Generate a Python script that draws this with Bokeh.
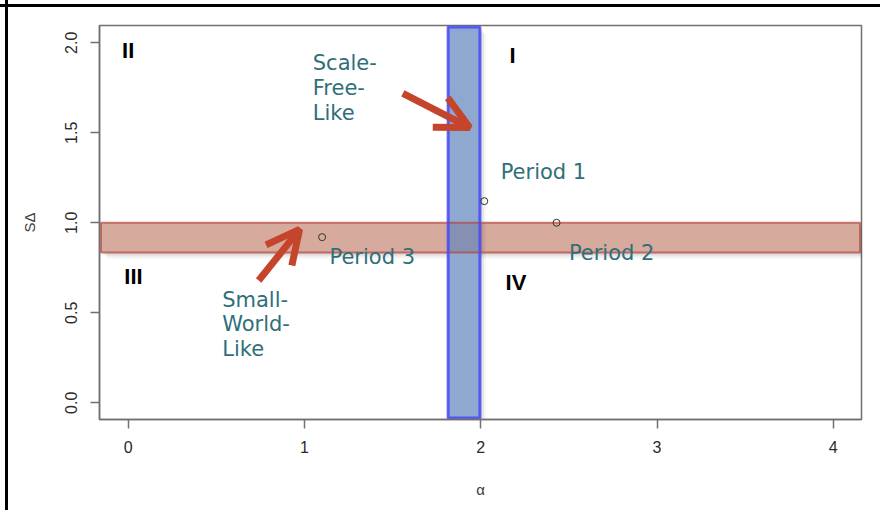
from bokeh.plotting import figure
from bokeh.models import Arrow, OpenHead, FixedTicker, Range1d, PrintfTickFormatter
from bokeh.core.properties import value
from bokeh.embed import file_html
from bokeh.resources import INLINE

# Network periods: scale-free exponent (alpha) vs small-world index (S-delta)
periods = ["Period 1", "Period 2", "Period 3"]
alpha = [2.02, 2.43, 1.10]
s_delta = [1.12, 1.00, 0.92]

# Reference regions: scale-free band in alpha, small-world band in S-delta
scale_free_alpha = [1.815, 1.995]
small_world_s = [0.835, 1.0]

x_ticks = [0, 1, 2, 3, 4]
y_ticks = [0.0, 0.5, 1.0, 1.5, 2.0]

quadrants = ["I", "II", "III", "IV"]
quad_x = [2.18, 0.0, 0.03, 2.20]
quad_y = [1.93, 1.955, 0.70, 0.67]

period_label_x = [2.113, 2.50, 1.142]
period_label_y = [1.28, 0.83, 0.812]

sf_lines = ["Scale-", "Free-", "Like"]
sf_x = [1.047, 1.047, 1.047]
sf_y = [1.886, 1.747, 1.608]

sw_lines = ["Small-", "World-", "Like"]
sw_x = [0.533, 0.533, 0.533]
sw_y = [0.569, 0.437, 0.298]

X0, X1 = -0.163, 4.16
Y0, Y1 = -0.093, 2.096

TEAL = "#2F6F7A"
RED = "#C4452B"
FRAME = "#707070"

p = figure(width=880, height=510, output_backend="svg", toolbar_location=None,
           x_range=Range1d(X0, X1), y_range=Range1d(Y0, Y1),
           min_border_left=99, min_border_right=19, min_border_top=25, min_border_bottom=91)

p.border_fill_color = None
p.background_fill_color = "white"
p.styles = {
    "background-color": "white",
    "background-image": "linear-gradient(#000,#000), linear-gradient(#000,#000)",
    "background-size": "100% 3px, 3px 100%",
    "background-position": "0 4px, 5px 0",
    "background-repeat": "no-repeat",
}
p.outline_line_color = FRAME
p.outline_line_width = 1.5
p.xgrid.visible = False
p.ygrid.visible = False

# pixel sizes in data units (for shadow offsets)
px_x = (X1 - X0) / 762.0
px_y = (Y1 - Y0) / 394.0

# soft drop shadow under the small-world band
for k, a in [(6, 0.04), (4, 0.06), (2, 0.08)]:
    p.quad(left=[X0 + 2 * px_x + k * px_x], right=[X1 + k * px_x],
           bottom=[small_world_s[0] - k * px_y], top=[small_world_s[1] - k * px_y],
           fill_color="black", fill_alpha=a, line_color=None)

# small-world band
p.quad(left=[X0 + 1.5 * px_x], right=[X1 - 1.5 * px_x],
       bottom=[small_world_s[0]], top=[small_world_s[1]],
       fill_color="#D6AB9E", line_color=None)

# soft drop shadow beside the scale-free band
for k, a in [(6, 0.04), (4, 0.06), (2, 0.08)]:
    p.quad(left=[scale_free_alpha[0] + k * px_x], right=[scale_free_alpha[1] + k * px_x],
           bottom=[Y0 - k * px_y], top=[Y1 - 2 * px_y - k * px_y],
           fill_color="black", fill_alpha=a, line_color=None)

# scale-free band, with a darker patch where it crosses the small-world band
p.quad(left=[scale_free_alpha[0]], right=[scale_free_alpha[1]],
       bottom=[Y0 + 1.5 * px_y], top=[Y1 - 1.5 * px_y],
       fill_color="#8EA8CF", line_color=None)
p.quad(left=[scale_free_alpha[0]], right=[scale_free_alpha[1]],
       bottom=[small_world_s[0]], top=[small_world_s[1]],
       fill_color="#8590B2", line_color=None)

# band outlines
p.quad(left=[X0 + 1.5 * px_x], right=[X1 - 1.5 * px_x],
       bottom=[small_world_s[0]], top=[small_world_s[1]],
       fill_color=None, line_color="#B8463F", line_alpha=0.7, line_width=2)
p.quad(left=[scale_free_alpha[0]], right=[scale_free_alpha[1]],
       bottom=[Y0 + 1.5 * px_y], top=[Y1 - 1.5 * px_y],
       fill_color=None, line_color="#4848F8", line_alpha=0.85, line_width=3)

# observed periods
p.scatter(alpha, s_delta, marker="circle", size=7, fill_color=None,
          line_color="#333333", line_width=1)

for xs, ys, ts in [(period_label_x, period_label_y, periods),
                   (sf_x, sf_y, sf_lines),
                   (sw_x, sw_y, sw_lines)]:
    p.text(x=xs, y=ys, text=ts,
           text_font=value("DejaVu Sans"), text_font_size="21px", text_color=TEAL,
           text_align="left", text_baseline="alphabetic")

p.text(x=quad_x, y=quad_y, text=quadrants,
       text_font=value("Liberation Sans"), text_font_size="22px",
       text_font_style="bold", text_color="black",
       text_align="center", text_baseline="middle")

# pointer arrows
p.add_layout(Arrow(x_start=1.558, y_start=1.719, x_end=1.937, y_end=1.529,
                   line_color=RED, line_width=7,
                   end=OpenHead(size=33, line_color=RED, line_width=7)))
p.add_layout(Arrow(x_start=0.740, y_start=0.679, x_end=0.972, y_end=0.963,
                   line_color=RED, line_width=7,
                   end=OpenHead(size=33, line_color=RED, line_width=7)))

# axes
p.xaxis.ticker = FixedTicker(ticks=x_ticks)
p.yaxis.ticker = FixedTicker(ticks=y_ticks)
p.xaxis.formatter = PrintfTickFormatter(format="%d")
p.yaxis.formatter = PrintfTickFormatter(format="%.1f")
p.xaxis.axis_label = "α"
p.yaxis.axis_label = "SΔ"
p.yaxis.major_label_orientation = "vertical"

for ax in (p.xaxis, p.yaxis):
    ax.axis_line_color = FRAME
    ax.axis_line_width = 1.5
    ax.major_tick_line_color = FRAME
    ax.major_tick_line_width = 1.5
    ax.major_tick_in = 0
    ax.major_tick_out = 9
    ax.minor_tick_line_color = None
    ax.major_label_text_font = "Liberation Sans"
    ax.major_label_text_font_size = "16px"
    ax.major_label_text_color = "#2a2a2a"
    ax.axis_label_text_font = "Liberation Sans"
    ax.axis_label_text_font_size = "15px"
    ax.axis_label_text_font_style = "normal"
    ax.axis_label_text_color = "#3a3a3a"

p.xaxis.major_label_standoff = 12
p.yaxis.major_label_standoff = 13
p.xaxis.axis_label_standoff = 25
p.yaxis.axis_label_standoff = 25

open("out.html", "w").write(file_html(p, INLINE))
